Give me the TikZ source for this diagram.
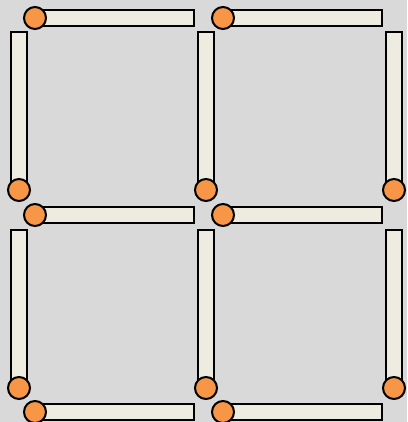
\documentclass[tikz,border=0pt]{standalone}
\definecolor{bgc}{HTML}{D9D9D9}
\definecolor{stickc}{HTML}{EEECE1}
\definecolor{headc}{HTML}{F79646}
\tikzset{
  stickbody/.style={fill=stickc,draw=black,line width=2pt},
  matchhead/.style={fill=headc,draw=black,line width=2pt},
  hmatch/.pic={
    \path[stickbody] (0,-8) rectangle (159,8);
    \path[matchhead] (0,0) circle[radius=11];
  },
  vmatch/.pic={
    \path[stickbody] (-8,-158) rectangle (8,0);
    \path[matchhead] (0,0) circle[radius=11];
  }
}
\begin{document}
\begin{tikzpicture}[x=1pt,y=-1pt]
\fill[bgc] (0,0) rectangle (407,422);
\useasboundingbox (0,0) rectangle (407,422);
% vertical matches
\foreach \vx in {19,206,394}{
  \foreach \vy in {190,388}{
    \pic at (\vx,\vy) {vmatch};
  }
}
% horizontal matches
\foreach \hx in {35,223}{
  \foreach \hy in {18,215,412}{
    \pic at (\hx,\hy) {hmatch};
  }
}
\end{tikzpicture}
\end{document}
